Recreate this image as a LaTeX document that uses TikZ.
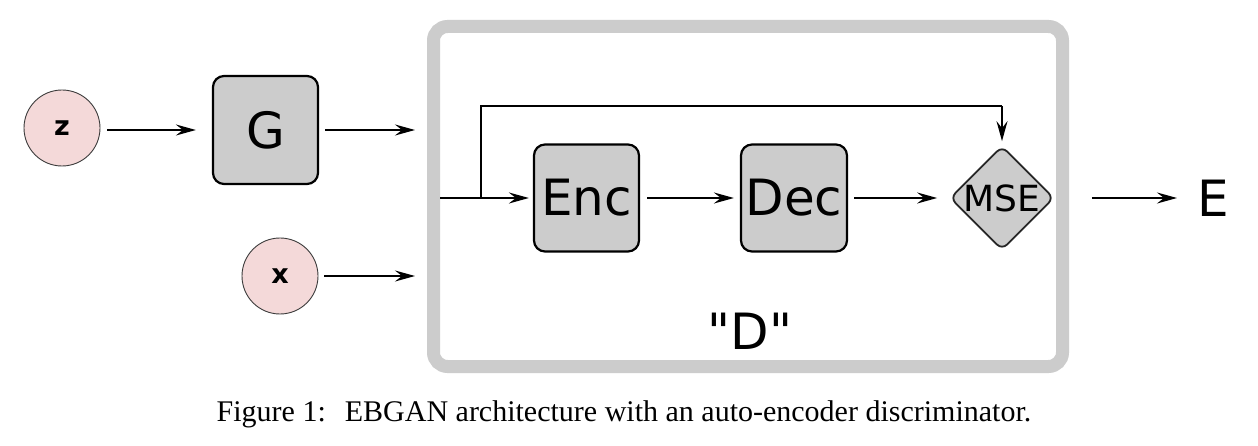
\documentclass[tikz,border=0pt]{standalone}
\usepackage{fontspec}
\usetikzlibrary{shapes.geometric,arrows.meta,calc}
\newfontfamily\dvsans{DejaVu Sans}
\newfontfamily\dvbold{DejaVu Sans Bold}
\newfontfamily\tmsfont{Liberation Serif}
\definecolor{boxgray}{RGB}{204,204,204}
\definecolor{inpink}{RGB}{244,217,217}
\definecolor{circedge}{RGB}{60,60,60}
\tikzset{
  blockbox/.style={draw=black, line width=2.2pt, fill=boxgray, rounded corners=11pt,
    inner sep=0pt, font=\dvsans\fontsize{50}{60}\selectfont},
  inputcirc/.style={circle, draw=circedge, line width=0.9pt, fill=inpink, inner sep=0pt,
    minimum size=76pt, font=\dvbold\fontsize{27}{32}\selectfont},
  msebox/.style={diamond, draw=black!85, line width=1.8pt, fill=boxgray, rounded corners=7pt,
    inner sep=0pt, minimum width=101pt, minimum height=101pt, aspect=1,
    font=\dvsans\fontsize{36}{40}\selectfont},
  conn/.style={line width=2pt, -{Stealth[length=20pt,width=11pt,inset=7pt]}},
  plainline/.style={line width=2pt},
  frameline/.style={draw=boxgray, line width=13pt, rounded corners=14pt},
  biglabel/.style={inner sep=0pt, font=\dvsans\fontsize{50}{60}\selectfont},
  captiontext/.style={inner sep=0pt, font=\tmsfont\fontsize{30}{34}\selectfont}
}
\begin{document}
\begin{tikzpicture}[x=1pt,y=-1pt]
\useasboundingbox[fill=white] (0,0) rectangle (1258,446);
% frame of D
\draw[frameline] (433.5,26.5) rectangle (1062.5,366.5);
% nodes
\node[inputcirc] (z) at (62,128) {z};
\node[inputcirc] (x) at (280,276) {x};
\node[blockbox, minimum width=105pt, minimum height=108pt] (G) at (265.5,130) {G};
\node[blockbox, minimum width=105pt, minimum height=107pt] (enc) at (586.5,198) {Enc};
\node[blockbox, minimum width=106pt, minimum height=107pt] (dec) at (794,198) {Dec};
\node[msebox] (mse) at (1002,198) {MSE};
\node[biglabel] (E) at (1213,198) {E};
\node[biglabel] (D) at (750,331) {"D"};
\node[captiontext] (cap) at (624,414) {Figure 1:\hspace{0.3em} EBGAN architecture with an auto-encoder discriminator.};
% free ends
\coordinate (gout) at (415,130);
\coordinate (xout) at (415,276);
\coordinate (din) at (440,198);
\coordinate (split) at (481,198);
\coordinate (fbup) at (481,106);
\coordinate (fbover) at (1002,106);
% connectors
\draw[conn, shorten <=7pt, shorten >=16pt] (z.east |- 0,130) -- (G.west);
\draw[conn, shorten <=6pt] (G.east) -- (gout);
\draw[conn, shorten <=6pt] (x.east) -- (xout);
\draw[conn, shorten >=4pt] (din) -- (enc.west);
\draw[plainline] (split) -- (fbup) -- (fbover);
\draw[conn, shorten >=4pt] (fbover) -- (mse.north);
\draw[conn, shorten <=7pt, shorten >=6pt] (enc.east) -- (dec.west);
\draw[conn, shorten <=6pt, shorten >=12pt] (dec.east) -- (mse.west);
\draw[conn, shorten <=37pt, shorten >=20pt] (mse.east) -- (E.west);
\end{tikzpicture}
\end{document}
